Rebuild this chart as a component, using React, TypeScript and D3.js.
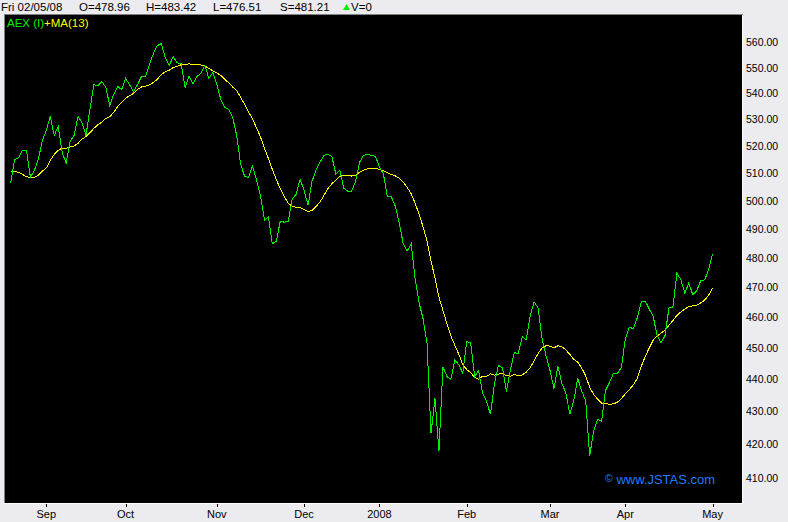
import React from "react";
import * as d3 from "d3";

// Daily closes of AEX, 22 Aug 2007 .. 2 May 2008
const closes: number[] = [
  506.2, 514.8, 515.6, 518.4, 518.3, 508.4, 511.0, 515.0, 522.0, 525.8,
  531.0, 523.9, 527.3, 517.6, 513.5, 521.7, 523.9, 531.0, 528.7, 523.9,
  533.7, 543.3, 542.9, 544.5, 542.2, 535.3, 539.5, 542.6, 541.4, 545.7,
  543.3, 540.6, 543.3, 546.5, 546.5, 551.2, 555.5, 558.7, 559.5, 553.9,
  550.8, 554.3, 551.9, 551.5, 542.2, 546.5, 543.7, 546.5, 547.7, 550.8,
  545.7, 548.1, 543.3, 537.6, 534.5, 533.7, 530.6, 523.9, 513.2, 508.8,
  508.4, 512.5, 507.4, 501.6, 493.1, 494.1, 484.7, 485.7, 492.7, 492.3,
  492.7, 500.5, 502.3, 507.7, 503.7, 498.3, 507.0, 511.0, 513.9, 516.5,
  516.8, 516.1, 509.6, 511.0, 504.5, 503.4, 503.4, 507.0, 513.9, 516.5,
  516.8, 516.5, 516.1, 512.1, 509.6, 501.3, 501.3, 498.0, 492.0, 484.7,
  482.3, 484.7, 472.7, 464.7, 459.4, 451.3, 423.2, 433.9, 417.8, 443.9,
  440.8, 439.9, 445.9, 444.6, 441.8, 451.9, 451.6, 440.8, 442.7, 435.5,
  433.0, 429.0, 438.6, 444.3, 443.6, 436.1, 442.7, 448.4, 448.1, 453.5,
  452.6, 460.3, 465.0, 463.0, 452.9, 447.4, 442.7, 437.0, 444.0, 438.6,
  435.7, 429.0, 433.3, 440.2, 436.1, 433.3, 416.4, 423.8, 427.5, 426.9,
  436.4, 438.9, 441.8, 441.8, 443.6, 452.9, 456.7, 456.1, 459.7, 465.0,
  465.3, 462.7, 460.3, 453.9, 451.6, 453.9, 463.0, 463.3, 474.7, 472.4,
  468.0, 471.3, 467.4, 468.7, 472.1, 472.4, 475.8, 481.2,
];

// MA(13) values for the first 12 days (their window starts before the chart)
const maLead: number[] = [
  510.4, 510.4, 510.3, 509.5, 508.6, 508.3, 508.4, 509.2, 510.6, 511.8,
  514.6, 516.8,
];

const maPeriod = 13;

const monthTickIndex: number[] = [9, 29, 52, 74, 93, 115, 136, 155, 177];
const monthTickLabels: string[] = ["Sep", "Oct", "Nov", "Dec", "2008", "Feb", "Mar", "Apr", "May"];

const priceTicks: number[] = [410, 420, 430, 440, 450, 460, 470, 480, 490, 500, 510, 520, 530, 540, 550, 560];

const headerDate = "Fri 02/05/08";
const headerFields: string[] = ["O=478.96", "H=483.42", "L=476.51", "S=481.21"];
const headerVolume = "V=0";

const legendMain = "AEX (I)";
const legendMA = "+MA(13)";
const watermark = "www.JSTAS.com";

export default function App() {
  const W = 788;
  const H = 522;
  const plotL = 5;
  const plotT = 15;
  const plotR = 742;
  const plotB = 503;

  const x = d3.scaleLinear().domain([0, closes.length - 1]).range([10.6, 712.6]);
  const y = d3.scaleLog().domain([402.6, 571.1]).range([plotB, plotT]);

  const ma: number[] = closes.map((c, i) =>
    i < maPeriod - 1 ? maLead[i] : (d3.mean(closes.slice(i - maPeriod + 1, i + 1)) as number)
  );

  const line = d3
    .line<number>()
    .x((d, i) => x(i))
    .y((d) => y(d));

  const font = "'Liberation Sans', Arial, sans-serif";
  const bg = "#ECEBF0";
  const green = "#00F000";
  const yellow = "#FFFF00";

  const headerX = [79, 146, 213, 280];

  return (
    <div style={{ position: "fixed", left: 0, top: 0, width: W, height: H }}>
      <svg width={W} height={H} style={{ display: "block" }} fontFamily={font}>
        <rect x={0} y={0} width={W} height={H} fill={bg} />
        {/* plot frame */}
        <rect x={plotL} y={plotT} width={plotR - plotL} height={plotB - plotT} fill="#000" />
        <line x1={4.5} y1={14} x2={4.5} y2={plotB} stroke="#808080" strokeWidth={1} />
        <line x1={4} y1={14.5} x2={plotR + 1} y2={14.5} stroke="#808080" strokeWidth={1} />
        <line x1={plotR + 0.5} y1={15} x2={plotR + 0.5} y2={plotB + 1} stroke="#FFFFFF" strokeWidth={1} />
        <line x1={4} y1={plotB + 0.5} x2={plotR + 1} y2={plotB + 0.5} stroke="#FFFFFF" strokeWidth={1} />

        {/* header */}
        <g fontSize={11.5} fill="#000">
          <text x={1} y={11}>{headerDate}</text>
          {headerFields.map((t, i) => (
            <text key={t} x={headerX[i]} y={11}>{t}</text>
          ))}
          <path d="M343,10 L346.5,4 L350,10 Z" fill={green} />
          <text x={351} y={11}>{headerVolume}</text>
        </g>

        {/* legend */}
        <text x={7} y={27} fontSize={11.5}>
          <tspan fill={green}>{legendMain}</tspan>
          <tspan fill={yellow}>{legendMA}</tspan>
        </text>

        {/* series */}
        <g shapeRendering="crispEdges" fill="none" strokeWidth={1}>
          <path d={line(ma) || ""} stroke={yellow} />
          <path d={line(closes) || ""} stroke={green} />
        </g>

        {/* watermark */}
        <text x={605} y={483.5} fontSize={13} fill="#1E7BFF">
          <tspan fontSize={10.5} dy={-2}>©</tspan>
          <tspan dy={2}> {watermark}</tspan>
        </text>

        {/* right price axis */}
        <g fontSize={10.5} fill="#000">
          {priceTicks.map((v) => (
            <text key={v} x={746} y={y(v) + 4}>{d3.format(".2f")(v)}</text>
          ))}
        </g>

        {/* bottom time axis */}
        <g>
          {monthTickIndex.map((idx, k) => (
            <g key={monthTickLabels[k]}>
              <line
                x1={Math.round(x(idx)) + 0.5}
                x2={Math.round(x(idx)) + 0.5}
                y1={504}
                y2={507}
                stroke="#000"
                strokeWidth={1}
              />
              <text x={x(idx)} y={518} fontSize={11} textAnchor="middle" fill="#000">
                {monthTickLabels[k]}
              </text>
            </g>
          ))}
        </g>
      </svg>
    </div>
  );
}
